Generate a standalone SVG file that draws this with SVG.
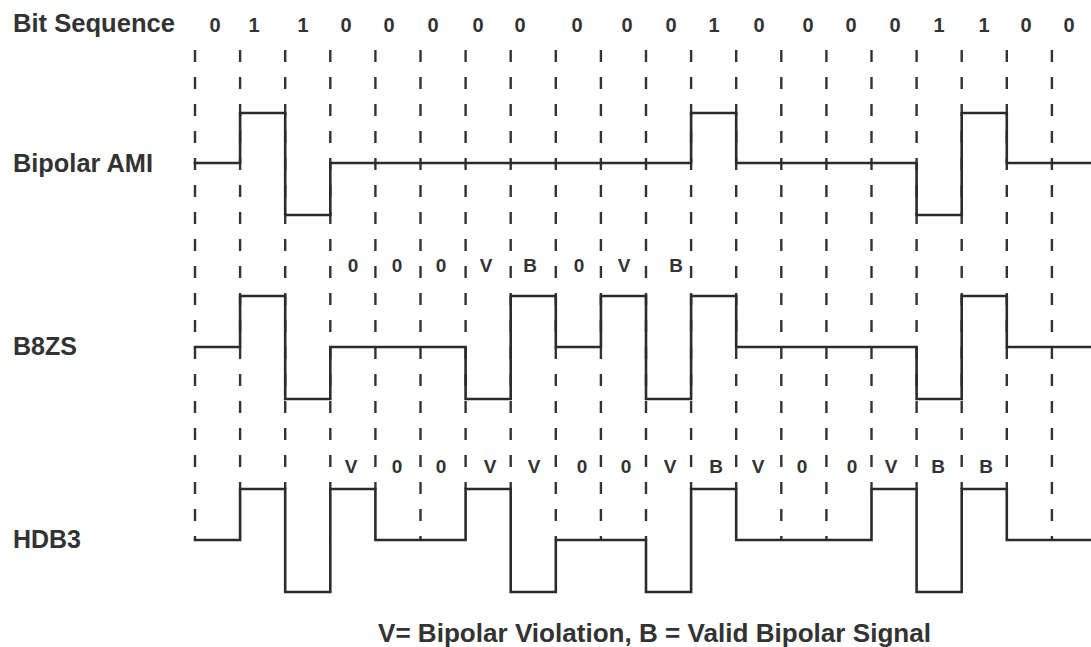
<svg xmlns="http://www.w3.org/2000/svg" width="1091" height="647" viewBox="0 0 1091 647">
<style>
.lbl{font-family:"Liberation Sans",Arial,sans-serif;font-weight:bold;font-size:25px;fill:#333}
.bit{font-family:"Liberation Sans",Arial,sans-serif;font-weight:bold;font-size:20px;fill:#333;text-anchor:middle}
.code{font-family:"Liberation Sans",Arial,sans-serif;font-weight:bold;font-size:19px;fill:#333;text-anchor:middle}
.grid{stroke:#333;stroke-width:2.4;stroke-dasharray:12 15;fill:none}
.sig{stroke:#2b2b2b;stroke-width:2.6;fill:none;stroke-linejoin:miter;stroke-linecap:square}
</style>
<rect width="1091" height="647" fill="#fff"/>
<g id="labels">
<text class="lbl" x="13" y="32" textLength="162" lengthAdjust="spacingAndGlyphs">Bit Sequence</text>
<text class="lbl" x="13" y="172" textLength="140" lengthAdjust="spacingAndGlyphs">Bipolar AMI</text>
<text class="lbl" x="13" y="355" textLength="64" lengthAdjust="spacingAndGlyphs">B8ZS</text>
<text class="lbl" x="13" y="548" textLength="68" lengthAdjust="spacingAndGlyphs">HDB3</text>
<text class="lbl" x="378" y="642" textLength="553" lengthAdjust="spacingAndGlyphs">V= Bipolar Violation, B = Valid Bipolar Signal</text>
</g>
<g id="bits">
<text class="bit" x="215" y="32">0</text>
<text class="bit" x="254" y="32">1</text>
<text class="bit" x="303" y="32">1</text>
<text class="bit" x="346" y="32">0</text>
<text class="bit" x="389" y="32">0</text>
<text class="bit" x="433" y="32">0</text>
<text class="bit" x="478" y="32">0</text>
<text class="bit" x="520" y="32">0</text>
<text class="bit" x="577" y="32">0</text>
<text class="bit" x="627" y="32">0</text>
<text class="bit" x="671" y="32">0</text>
<text class="bit" x="714" y="32">1</text>
<text class="bit" x="759" y="32">0</text>
<text class="bit" x="808" y="32">0</text>
<text class="bit" x="851" y="32">0</text>
<text class="bit" x="895" y="32">0</text>
<text class="bit" x="939" y="32">1</text>
<text class="bit" x="984" y="32">1</text>
<text class="bit" x="1026" y="32">0</text>
<text class="bit" x="1069" y="32">0</text>
</g>
<g id="grid">
<line class="grid" x1="195" y1="50" x2="195" y2="540"/>
<line class="grid" x1="240.1" y1="50" x2="240.1" y2="489"/>
<line class="grid" x1="285.2" y1="50" x2="285.2" y2="489"/>
<line class="grid" x1="330.3" y1="50" x2="330.3" y2="489"/>
<line class="grid" x1="375.4" y1="50" x2="375.4" y2="489"/>
<line class="grid" x1="420.5" y1="50" x2="420.5" y2="540"/>
<line class="grid" x1="465.6" y1="50" x2="465.6" y2="489"/>
<line class="grid" x1="510.7" y1="50" x2="510.7" y2="489"/>
<line class="grid" x1="555.8" y1="50" x2="555.8" y2="540"/>
<line class="grid" x1="600.9" y1="50" x2="600.9" y2="540"/>
<line class="grid" x1="646" y1="50" x2="646" y2="540"/>
<line class="grid" x1="691.1" y1="50" x2="691.1" y2="489"/>
<line class="grid" x1="736.2" y1="50" x2="736.2" y2="489"/>
<line class="grid" x1="781.3" y1="50" x2="781.3" y2="540"/>
<line class="grid" x1="826.4" y1="50" x2="826.4" y2="540"/>
<line class="grid" x1="871.5" y1="50" x2="871.5" y2="489"/>
<line class="grid" x1="916.6" y1="50" x2="916.6" y2="489"/>
<line class="grid" x1="961.7" y1="50" x2="961.7" y2="489"/>
<line class="grid" x1="1006.8" y1="50" x2="1006.8" y2="489"/>
<line class="grid" x1="1051.9" y1="50" x2="1051.9" y2="540"/>
</g>
<g id="ami">
<path class="sig" d="M195 163 H240.1 V113 H285.2 V215 H330.3 V163 H691.1 V113 H736.2 V163 H916.6 V215 H961.7 V113 H1006.8 V163 H1092"/>
</g>
<g id="b8zs">
<path class="sig" d="M195 347 H240.1 V296 H285.2 V399 H330.3 V347 H465.6 V399 H510.7 V296 H555.8 V347 H600.9 V296 H646 V399 H691.1 V296 H736.2 V347 H916.6 V399 H961.7 V296 H1006.8 V347 H1092"/>
<text class="code" x="353" y="272">0</text>
<text class="code" x="397" y="272">0</text>
<text class="code" x="441" y="272">0</text>
<text class="code" x="486" y="272">V</text>
<text class="code" x="530" y="272">B</text>
<text class="code" x="579" y="272">0</text>
<text class="code" x="624" y="272">V</text>
<text class="code" x="676" y="272">B</text>
</g>
<g id="hdb3">
<path class="sig" d="M195 540 H240.1 V489 H285.2 V592 H330.3 V489 H375.4 V540 H465.6 V489 H510.7 V592 H555.8 V540 H646 V592 H691.1 V489 H736.2 V540 H871.5 V489 H916.6 V592 H961.7 V489 H1006.8 V540 H1092"/>
<text class="code" x="351" y="473">V</text>
<text class="code" x="397" y="473">0</text>
<text class="code" x="441" y="473">0</text>
<text class="code" x="490" y="473">V</text>
<text class="code" x="534" y="473">V</text>
<text class="code" x="582" y="473">0</text>
<text class="code" x="626" y="473">0</text>
<text class="code" x="670" y="473">V</text>
<text class="code" x="716" y="473">B</text>
<text class="code" x="758" y="473">V</text>
<text class="code" x="802" y="473">0</text>
<text class="code" x="852" y="473">0</text>
<text class="code" x="891" y="473">V</text>
<text class="code" x="938" y="473">B</text>
<text class="code" x="986" y="473">B</text>
</g>
</svg>
